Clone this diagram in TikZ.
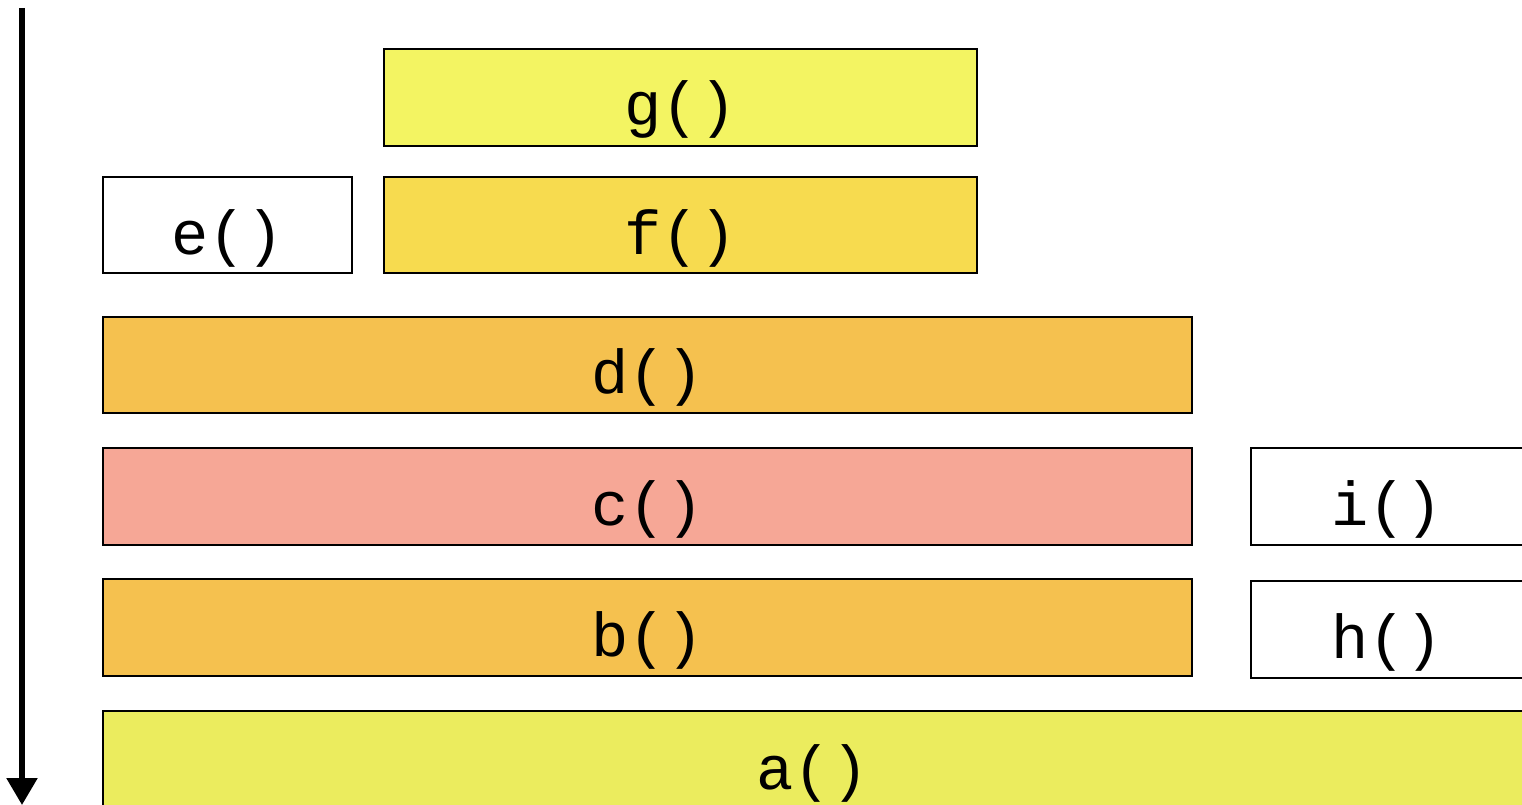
\documentclass[tikz,border=0pt]{standalone}
\usepackage{fontspec}
\newfontfamily\monofnt{Liberation Mono}
\usetikzlibrary{arrows.meta}
\definecolor{cg}{HTML}{F3F462}
\definecolor{cf}{HTML}{F7DB4F}
\definecolor{cd}{HTML}{F5C14F}
\definecolor{cc}{HTML}{F6A796}
\definecolor{ca}{HTML}{EBEC5E}
\tikzset{
  frame/.style={draw=black, line width=2pt},
  lbl/.style={anchor=base, inner sep=0pt, font=\monofnt\fontsize{62}{70}\selectfont},
  timeline/.style={line width=5.5pt, -{Triangle[length=27pt,width=30pt]}}
}
\begin{document}
\begin{tikzpicture}[x=1pt,y=-1pt]
\useasboundingbox (0,0) rectangle (1522,805);
% boxes
\draw[frame, fill=cg] (384,49) rectangle (977,146);
\node[lbl] (g) at (680.5,126) {g()};
\draw[frame, fill=white] (103,177) rectangle (352,273);
\node[lbl] (e) at (227.5,254) {e()};
\draw[frame, fill=cf] (384,177) rectangle (977,273);
\node[lbl] (f) at (680.5,254) {f()};
\draw[frame, fill=cd] (103,317) rectangle (1192,413);
\node[lbl] (d) at (647.5,393) {d()};
\draw[frame, fill=cc] (103,448) rectangle (1192,545);
\node[lbl] (c) at (647.5,525) {c()};
\draw[frame, fill=white] (1251,448) rectangle (1524,545);
\node[lbl] (i) at (1387,525) {i()};
\draw[frame, fill=cd] (103,579) rectangle (1192,676);
\node[lbl] (b) at (647.5,656) {b()};
\draw[frame, fill=white] (1251,581) rectangle (1524,678);
\node[lbl] (h) at (1387,658) {h()};
\draw[frame, fill=ca] (103,711) rectangle (1524,810);
\node[lbl] (a) at (812.5,789) {a()};
% time arrow
\coordinate (ttop) at (22,8);
\coordinate (tbot) at (22,805);
\draw[timeline] (ttop) -- (tbot);
\end{tikzpicture}
\end{document}
